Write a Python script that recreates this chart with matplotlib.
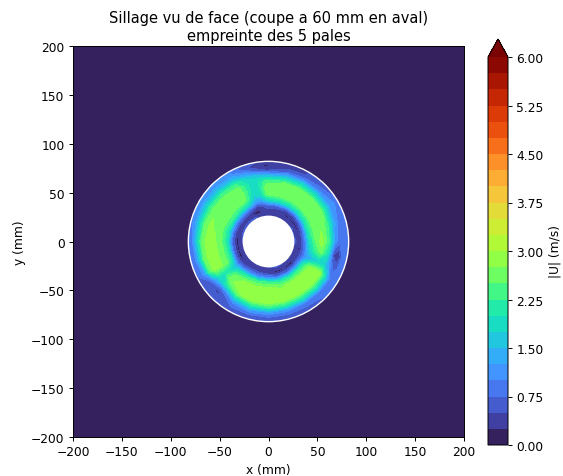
import numpy as np
import matplotlib
matplotlib.use('Agg')
import matplotlib.pyplot as plt
from matplotlib.patches import Circle

# Reference looks like a shrunk figure, so everything is a bit smaller
plt.rcParams['font.size'] = 8.8
plt.rcParams['axes.titlesize'] = 10.5
plt.rcParams['axes.linewidth'] = 0.7
plt.rcParams['xtick.major.size'] = 3.1
plt.rcParams['ytick.major.size'] = 3.1
plt.rcParams['xtick.major.width'] = 0.7
plt.rcParams['ytick.major.width'] = 0.7
plt.rcParams['xtick.major.pad'] = 3
plt.rcParams['ytick.major.pad'] = 3

# Radial stations (mm) and angles (deg) of the wake slice
radii = [26.5, 32, 37, 42, 48, 55, 62, 68, 73, 78, 82]
angles = [0, 15, 30, 45, 60, 75, 92, 100, 108, 120, 135, 150, 165, 180, 195, 207, 216, 225,
          240, 255, 270, 285, 300, 315, 328, 338, 348]

# |U| (m/s), one row per angle, one column per radius
u_000 = [.6, .3, .9, 1.9, 2.5, 2.9, 2.3, 1.2, .8, .9, 1.0]
u_015 = [.5, .2, .9, 2.1, 2.6, 2.7, 2.4, 1.5, 1.0, 1.0, 1.0]
u_030 = [.6, .15, .8, 2.0, 2.6, 2.7, 2.6, 1.8, 1.1, 1.0, .8]
u_045 = [.4, .2, .6, 1.9, 2.6, 2.7, 2.6, 1.8, 1.0, .7, .6]
u_060 = [.5, .2, .6, 1.9, 2.6, 2.7, 2.6, 1.8, .9, .5, .5]
u_075 = [.5, .3, .7, 1.9, 2.6, 2.7, 2.5, 1.6, .8, .4, .4]
u_092 = [.5, .4, .7, 1.7, 2.5, 2.7, 2.4, 1.4, .5, .2, .4]
u_100 = [.5, .3, .5, 1.2, 1.8, 2.0, 2.0, 1.6, .7, .3, .5]
u_108 = [.4, .15, .4, 1.2, 1.7, 1.9, 1.9, 1.7, 1.1, .6, .6]
u_120 = [.6, .2, .7, 1.9, 2.6, 2.7, 2.6, 2.2, 1.5, 1.1, .9]
u_135 = [.6, .3, .9, 2.1, 2.6, 2.7, 2.7, 2.3, 1.6, 1.2, 1.0]
u_150 = [.6, .3, .9, 2.2, 2.6, 2.7, 2.7, 2.4, 1.7, 1.2, 1.0]
u_165 = [.6, .2, .8, 2.0, 2.5, 2.7, 2.8, 2.5, 1.8, 1.1, .9]
u_180 = [.5, .15, .7, 2.0, 2.5, 2.8, 2.9, 2.6, 1.8, 1.0, .9]
u_195 = [.5, .2, .8, 2.1, 2.6, 2.8, 2.9, 2.6, 1.6, .9, .8]
u_207 = [.5, .15, .7, 2.0, 2.6, 2.8, 2.9, 2.4, 1.2, .8, .7]
u_216 = [.5, .2, .7, 1.5, 1.9, 2.0, 1.9, 1.1, .6, .6, .7]
u_225 = [.4, .3, .8, 1.9, 2.5, 2.7, 2.0, .8, .4, .6, .7]
u_240 = [.4, .4, 1.0, 2.2, 2.8, 2.9, 2.7, 1.7, 1.0, .7, .7]
u_255 = [.5, .4, 1.0, 2.3, 2.8, 2.9, 2.9, 2.1, 1.2, .7, .6]
u_270 = [.5, .3, 1.0, 2.3, 2.8, 2.9, 3.0, 2.2, 1.2, .7, .6]
u_285 = [.6, .15, .8, 2.1, 2.7, 2.9, 2.9, 2.1, 1.1, .7, .6]
u_300 = [.5, .2, .8, 2.1, 2.8, 2.9, 2.8, 2.0, 1.0, .7, .7]
u_315 = [.4, .15, .9, 2.2, 2.8, 2.9, 2.8, 2.0, 1.0, .8, .7]
u_328 = [.5, .3, .9, 2.0, 2.7, 2.9, 2.85, 1.9, 1.0, .9, .9]
u_338 = [.4, .3, .7, 1.2, 1.5, 1.7, 1.7, 1.0, .6, .9, 1.0]
u_348 = [.4, .2, .8, 1.6, 2.2, 2.6, 2.0, .5, .25, .9, 1.0]

u_table = [u_000, u_015, u_030, u_045, u_060, u_075, u_092, u_100, u_108, u_120, u_135, u_150,
           u_165, u_180, u_195, u_207, u_216, u_225, u_240, u_255, u_270, u_285, u_300, u_315,
           u_328, u_338, u_348]

tick_values = [0, .75, 1.5, 2.25, 3, 3.75, 4.5, 5.25, 6]
box = [-200, 200]

# Close the ring by repeating the first angle
U = np.array(u_table + [u_000])
th = np.deg2rad(angles + [360])
R, T = np.meshgrid(radii, th)
X = R * np.cos(T)
Y = R * np.sin(T)

levels = np.linspace(0, 6, 25)

W, H = 563, 477
fig = plt.figure(figsize=(W / 100, H / 100), dpi=100)
ax = fig.add_axes([73 / W, 1 - 438 / H, 391 / W, 391 / H])

# Outside the ring the flow is taken as zero
ax.contourf(box, box, np.zeros((2, 2)), levels=levels, cmap='turbo', extend='max')
cs = ax.contourf(X, Y, U, levels=levels, cmap='turbo', extend='max')

ax.add_patch(Circle((0, 0), radii[-1], fc='none', ec='white', lw=1.0))
ax.add_patch(Circle((0, 0), radii[0], fc='white', ec='none'))

ax.set_xlim(box)
ax.set_ylim(box)
ax.set_xlabel('x (mm)', labelpad=3.5)
ax.set_ylabel('y (mm)', labelpad=3.5)
ax.set_title('Sillage vu de face (coupe a 60 mm en aval)\nempreinte des 5 pales', pad=4.5)

cax = fig.add_axes([488 / W, 1 - 446 / H, 20 / W, 406 / H])
cb = fig.colorbar(cs, cax=cax, ticks=tick_values, extendfrac=18 / 388)
cb.set_label('|U| (m/s)', labelpad=3.5)
cb.ax.set_yticklabels(['%.2f' % t for t in tick_values])
cb.outline.set_linewidth(0.7)

plt.savefig('out.png', dpi=100)
